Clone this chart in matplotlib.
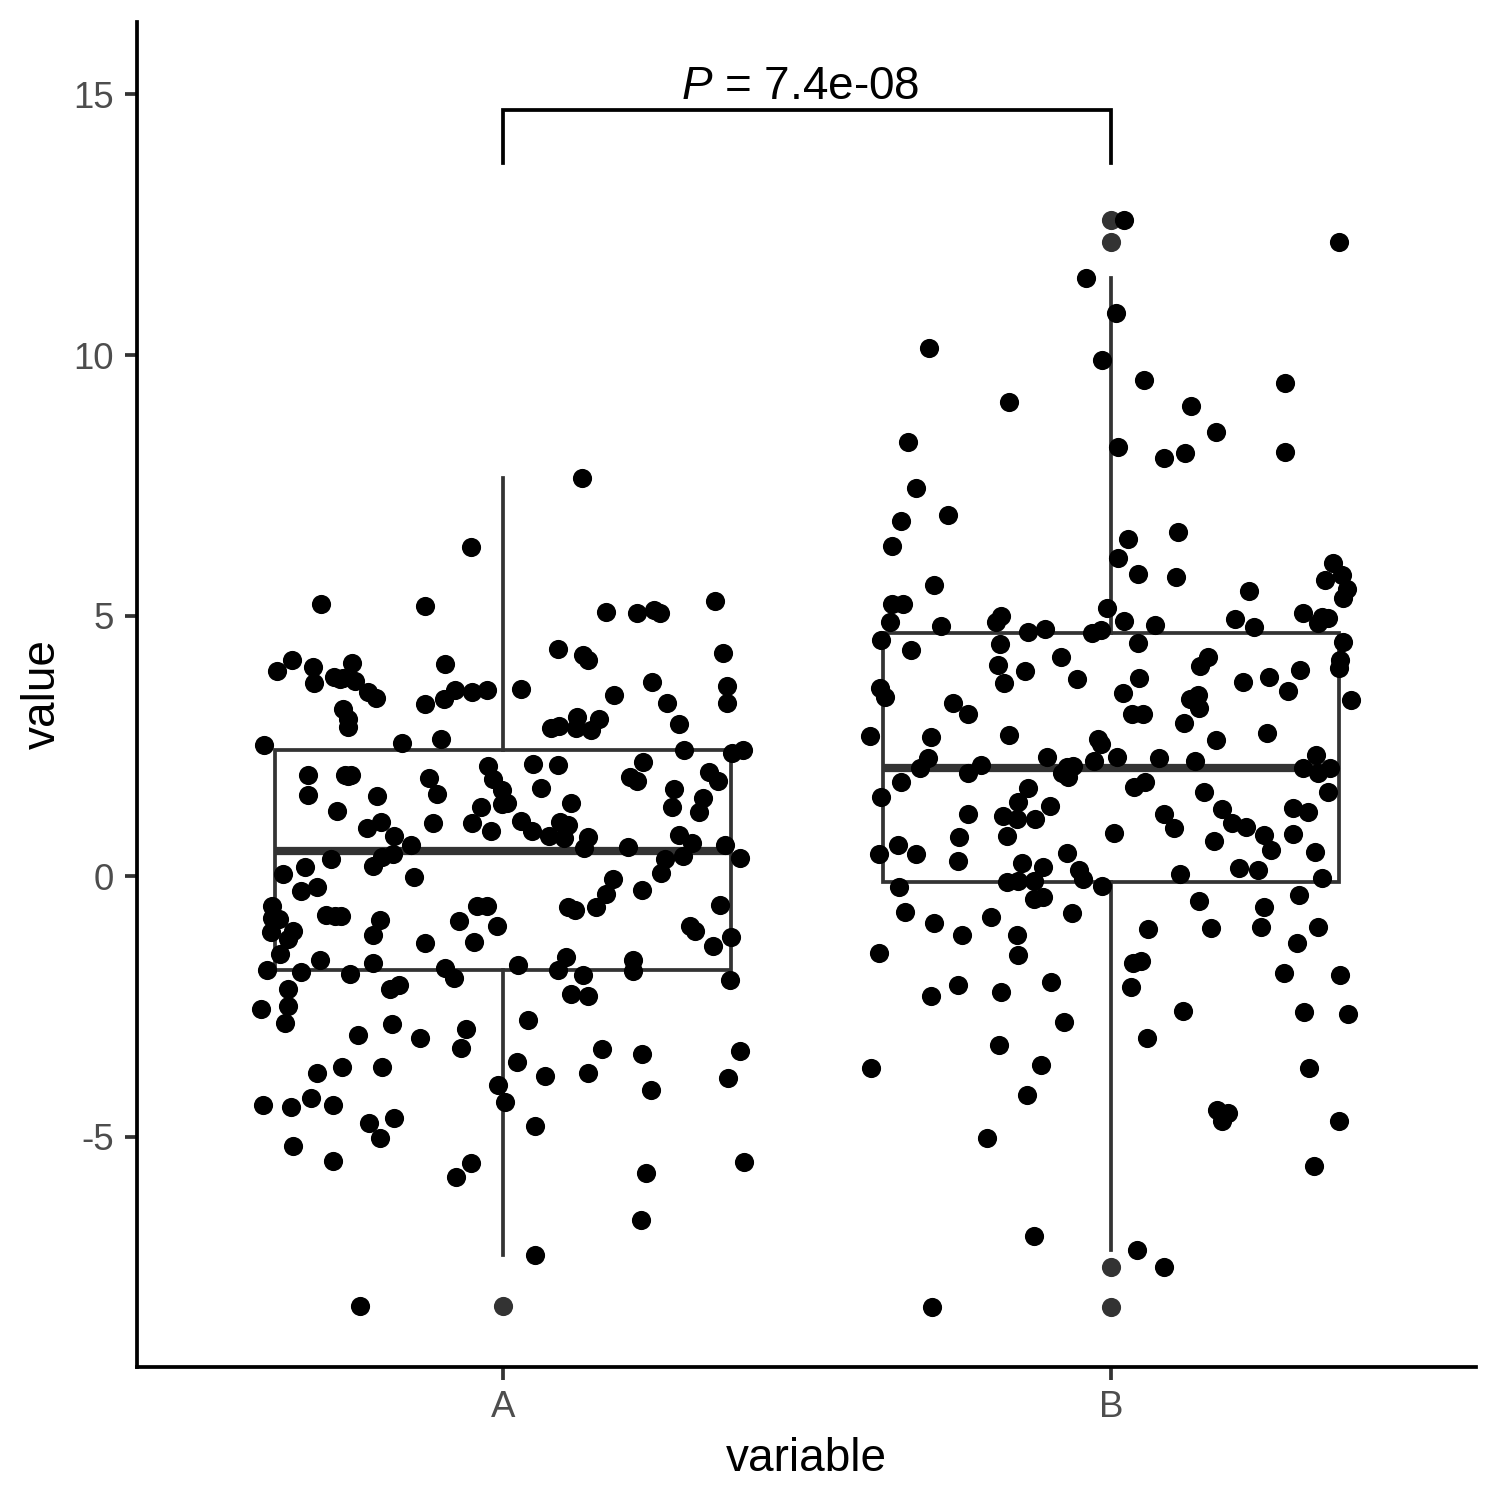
import matplotlib
matplotlib.use("Agg")
import matplotlib.pyplot as plt
import numpy as np

plt.rcParams['font.family'] = ['Liberation Sans', 'DejaVu Sans']
plt.rcParams['axes.unicode_minus'] = False
plt.rcParams['mathtext.fontset'] = 'custom'
plt.rcParams['mathtext.rm'] = 'Liberation Sans'
plt.rcParams['mathtext.it'] = 'Liberation Sans:italic'

categories = ["A", "B"]

a_values = [
    7.64, 6.31, 5.22, 5.18, 5.07, 5.05, 5.11, 5.05, 5.28,
    3.93, 4.15, 4.01, 3.70, 3.82, 3.80, 4.09, 3.74, 3.53, 3.42,
    3.21, 3.01, 2.86, 2.51, 2.55, 4.07, 3.30, 3.40, 3.57, 3.53,
    3.57, 2.63, 3.59, 4.36, 4.24, 4.15, 3.47, 3.72, 3.32, 2.92,
    4.28, 3.65, 3.32, 2.84, 2.88, 3.05, 2.84, 2.80, 3.01, 2.42,
    2.36, 2.42,
    1.94, 1.55, 1.94, 1.94, 1.54, 1.25, 1.88, 1.57, 1.02, 0.92,
    1.04, 0.77, 0.60, 0.36, 0.42, 0.19, 0.33, 0.17, 0.04, -0.29,
    -0.21, -0.02, 2.11, 1.86, 1.65, 1.38, 1.40, 1.32, 1.02, 0.86,
    2.15, 2.13, 1.69, 1.40, 1.06, 0.86, 0.77, 1.04, 0.98, 0.73,
    0.75, 0.54, 0.56, 2.19, 1.90, 1.82, 1.67, 1.32, 1.50, 1.23,
    2.00, 1.82, 0.79, 0.63, 0.60, 0.35, 0.33, 0.38, 0.06, -0.06,
    -0.35, -0.27, 1.93, 0.96, 3.79,
    -0.58, -0.81, -0.83, -1.07, -1.06, -1.21, -1.50, -1.80, -1.84, -1.61,
    -0.75, -0.77, -0.77, -0.84, -1.13, -1.67, -1.88, -2.17, -2.50, -2.55,
    -2.82, -2.17, -2.09, -1.29, -0.86, -0.96, -1.27, -0.58, -0.58, -1.77,
    -1.96, -2.84, -3.05, -3.11, -2.94, -1.71, -2.76, -0.60, -0.65, -0.60,
    -1.55, -1.80, -1.90, -2.26, -2.30, -1.61, -1.82, -0.96, -1.06, -1.34,
    -1.17, -0.56, -2.00,
    -3.30, -3.78, -3.67, -3.67, -4.40, -4.43, -4.26, -4.40, -4.74, -4.64,
    -5.03, -5.18, -5.47, -5.51, -5.78, -3.57, -4.01, -4.34, -4.80, -3.84,
    -3.32, -3.78, -3.42, -4.11, -5.70, -6.60, -3.36, -3.88, -5.49, -7.27,
    -8.25,
]
a_jitter = [
    0.130, -0.053, -0.299, -0.128, 0.169, 0.220, 0.248, 0.258, 0.349,
    -0.372, -0.347, -0.313, -0.311, -0.278, -0.263, -0.248, -0.243, -0.222, -0.209,
    -0.263, -0.255, -0.255, -0.393, -0.166, -0.095, -0.128, -0.097, -0.079, -0.051,
    -0.026, -0.102, 0.030, 0.090, 0.132, 0.140, 0.183, 0.245, 0.270, 0.289,
    0.362, 0.368, 0.368, 0.079, 0.092, 0.122, 0.120, 0.145, 0.158, 0.298,
    0.377, 0.395,
    -0.321, -0.321, -0.260, -0.250, -0.207, -0.273, -0.122, -0.109, -0.115, -0.224,
    -0.201, -0.179, -0.151, -0.199, -0.181, -0.214, -0.283, -0.326, -0.362, -0.332,
    -0.306, -0.146, -0.025, -0.016, -0.002, -0.002, 0.007, -0.036, -0.051, -0.020,
    0.049, 0.090, 0.063, 0.112, 0.030, 0.048, 0.076, 0.094, 0.107, 0.100,
    0.140, 0.133, 0.206, 0.230, 0.209, 0.220, 0.281, 0.278, 0.329, 0.322,
    0.339, 0.354, 0.289, 0.311, 0.365, 0.390, 0.266, 0.296, 0.260, 0.181,
    0.169, 0.229, -0.255, 0.102, -0.268,
    -0.380, -0.380, -0.368, -0.382, -0.345, -0.354, -0.367, -0.388, -0.332, -0.301,
    -0.291, -0.276, -0.266, -0.202, -0.214, -0.214, -0.252, -0.354, -0.354, -0.398,
    -0.359, -0.186, -0.171, -0.128, -0.072, -0.010, -0.048, -0.043, -0.026, -0.095,
    -0.081, -0.183, -0.238, -0.137, -0.061, 0.025, 0.041, 0.107, 0.118, 0.153,
    0.104, 0.090, 0.132, 0.112, 0.140, 0.214, 0.214, 0.308, 0.316, 0.345,
    0.375, 0.357, 0.373,
    -0.069, -0.306, -0.265, -0.199, -0.395, -0.349, -0.316, -0.280, -0.220, -0.179,
    -0.202, -0.345, -0.280, -0.053, -0.077, 0.023, -0.008, 0.003, 0.053, 0.069,
    0.163, 0.140, 0.229, 0.243, 0.235, 0.227, 0.390, 0.370, 0.396, 0.053,
    -0.235,
]

b_values = [
    12.59, 12.17, 11.48, 10.81, 10.13, 9.90, 9.52, 9.46, 9.10, 9.02,
    8.52, 8.33, 8.23, 8.02, 8.12, 8.14, 7.45,
    6.81, 6.93, 6.33, 5.59, 5.22, 5.22, 4.88, 4.80, 4.88, 4.99,
    4.68, 4.74, 4.66, 4.72, 5.14, 6.47, 6.10, 5.80, 6.60, 5.74,
    4.89, 4.82, 5.47, 4.93, 4.78, 5.05, 4.97, 4.95, 4.86, 6.01,
    5.78, 5.68, 5.51, 5.34,
    4.53, 4.34, 4.45, 4.05, 3.93, 3.70, 4.20, 3.78, 4.47, 3.80,
    3.51, 3.11, 3.11, 4.03, 4.20, 3.40, 3.47, 3.22, 2.94, 2.61,
    3.72, 3.82, 3.55, 3.95, 2.74, 4.15, 3.99, 4.49, 3.38, 3.61,
    3.44, 3.32, 3.11, 2.69, 2.67, 2.71, 2.63, 2.53, 2.26, 2.07,
    2.13, 1.98, 2.28, 2.09, 2.11, 1.98, 1.90, 2.21, 2.28, 2.26,
    2.21, 2.32, 2.07, 2.07, 1.98,
    1.80, 1.52, 1.69, 1.42, 1.34, 1.15, 1.09, 1.09, 1.71, 1.80,
    1.19, 0.75, 0.60, 0.42, 0.42, 0.29, 0.77, 0.83, 0.44, 0.25,
    0.17, 0.12, -0.06, -0.12, -0.10, -0.10, -0.19, -0.44, -0.40, -0.21,
    -0.69, -0.71, 1.61, 1.29, 1.02, 0.94, 1.19, 0.92, 0.67, 0.79,
    0.50, 1.31, 1.23, 0.81, 1.61, 0.46, 0.15, 0.12, 0.04, -0.04,
    -0.48, -0.60, -0.36,
    -0.90, -0.79, -1.13, -1.13, -1.52, -1.48, -2.30, -2.09, -2.23, -2.03,
    -2.80, -3.24, -1.02, -1.00, -0.98, -0.98, -1.29, -1.67, -1.63, -2.13,
    -1.86, -1.90, -2.59, -2.61, -2.65, -3.11,
    -3.69, -3.63, -4.20, -5.03, -3.69, -4.49, -4.55, -4.70, -4.70, -5.57,
    -6.91, -7.17, -7.50, -8.27,
]
b_jitter = [
    0.021, 0.375, -0.041, 0.008, -0.299, -0.015, 0.054, 0.286, -0.168, 0.132,
    0.173, -0.334, 0.012, 0.087, 0.122, 0.286, -0.321,
    -0.345, -0.268, -0.360, -0.291, -0.360, -0.342, -0.363, -0.280, -0.189, -0.181,
    -0.137, -0.109, -0.031, -0.016, -0.007, 0.028, 0.012, 0.044, 0.110, 0.107,
    0.021, 0.072, 0.227, 0.204, 0.235, 0.316, 0.347, 0.357, 0.340, 0.365,
    0.380, 0.352, 0.388, 0.382,
    -0.378, -0.329, -0.183, -0.186, -0.141, -0.176, -0.082, -0.056, 0.044, 0.046,
    0.020, 0.035, 0.053, 0.146, 0.160, 0.130, 0.143, 0.145, 0.120, 0.173,
    0.217, 0.260, 0.291, 0.311, 0.257, 0.377, 0.375, 0.382, 0.395, -0.380,
    -0.372, -0.260, -0.235, -0.396, -0.296, -0.168, -0.021, -0.016, -0.301, -0.314,
    -0.214, -0.235, -0.105, -0.072, -0.063, -0.081, -0.071, -0.028, 0.010, 0.079,
    0.138, 0.337, 0.316, 0.360, 0.340,
    -0.345, -0.378, -0.137, -0.153, -0.100, -0.178, -0.155, -0.125, 0.038, 0.056,
    -0.235, -0.250, -0.350, -0.382, -0.321, -0.252, -0.171, 0.005, -0.072, -0.146,
    -0.112, -0.053, -0.046, -0.171, -0.153, -0.127, -0.015, -0.127, -0.112, -0.349,
    -0.339, -0.064, 0.153, 0.183, 0.199, 0.222, 0.087, 0.104, 0.169, 0.252,
    0.263, 0.299, 0.324, 0.299, 0.357, 0.336, 0.211, 0.242, 0.113, 0.347,
    0.145, 0.252, 0.309,
    -0.291, -0.197, -0.245, -0.155, -0.153, -0.382, -0.296, -0.252, -0.181, -0.099,
    -0.077, -0.184, 0.061, 0.164, 0.247, 0.340, 0.306, 0.036, 0.049, 0.033,
    0.285, 0.377, 0.118, 0.317, 0.390, 0.059,
    -0.395, -0.115, -0.138, -0.204, 0.326, 0.174, 0.192, 0.183, 0.375, 0.334,
    -0.127, 0.043, 0.087, -0.294,
]

p_label = r"$\it{P}$ = 7.4e-08"
y_ticks = [-5, 0, 5, 10, 15]

fig = plt.figure(figsize=(5, 5), dpi=300)
ax = fig.add_axes([0.0913, 0.0887, 0.8927, 0.8966])

box_col = "#333333"
lw = 0.9
ax.boxplot([a_values, b_values], positions=[1, 2], widths=0.75, whis=1.5,
           patch_artist=True, showcaps=False,
           boxprops=dict(facecolor="white", edgecolor=box_col, linewidth=lw),
           whiskerprops=dict(color=box_col, linewidth=lw),
           medianprops=dict(color=box_col, linewidth=lw * 2.2),
           flierprops=dict(marker="o", markerfacecolor=box_col, markeredgecolor=box_col,
                           markersize=4.6, markeredgewidth=0),
           zorder=1)

ax.scatter(1 + np.array(a_jitter), a_values, s=4.6 ** 2, color="black", linewidths=0, zorder=3)
ax.scatter(2 + np.array(b_jitter), b_values, s=4.6 ** 2, color="black", linewidths=0, zorder=3)

# significance bracket
y_br, y_tip = 14.7, 13.69
ax.plot([1, 1, 2, 2], [y_tip, y_br, y_br, y_tip], color="black", linewidth=lw, zorder=4,
        solid_joinstyle="miter")
ax.text(1.489, y_br + 0.03, p_label, ha="center", va="bottom", fontsize=11, color="black")

ax.set_xlim(0.398, 2.6)
ax.set_ylim(-9.42, 16.39)
ax.set_xticks([1, 2])
ax.set_xticklabels(categories)
ax.set_yticks(y_ticks)
ax.set_yticklabels([str(t) for t in y_ticks])
ax.tick_params(axis="both", labelsize=8.8, labelcolor="#4D4D4D", color="#333333",
               length=3, width=lw, pad=2.5)
for s in ["top", "right"]:
    ax.spines[s].set_visible(False)
for s in ["left", "bottom"]:
    ax.spines[s].set_linewidth(lw)
ax.set_xlabel("variable", fontsize=11, labelpad=3)
ax.set_ylabel("value", fontsize=11, labelpad=2)

fig.savefig("out.png", dpi=300)
